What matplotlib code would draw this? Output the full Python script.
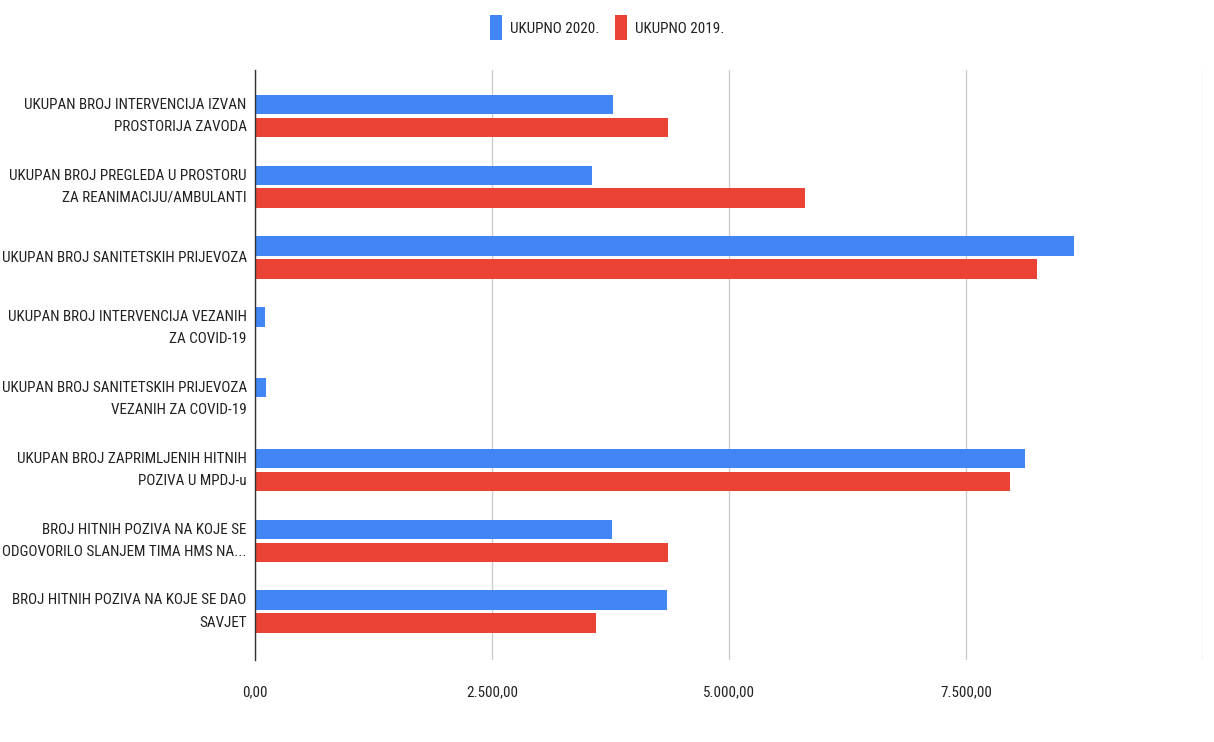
import matplotlib
matplotlib.use("Agg")
import matplotlib.pyplot as plt
import numpy as np
from matplotlib import font_manager

categories = [
    "UKUPAN BROJ INTERVENCIJA IZVAN\nPROSTORIJA ZAVODA",
    "UKUPAN BROJ PREGLEDA U PROSTORU\nZA REANIMACIJU/AMBULANTI",
    "UKUPAN BROJ SANITETSKIH PRIJEVOZA",
    "UKUPAN BROJ INTERVENCIJA VEZANIH\nZA COVID-19",
    "UKUPAN BROJ SANITETSKIH PRIJEVOZA\nVEZANIH ZA COVID-19",
    "UKUPAN BROJ ZAPRIMLJENIH HITNIH\nPOZIVA U MPDJ-u",
    "BROJ HITNIH POZIVA NA KOJE SE\nODGOVORILO SLANJEM TIMA HMS NA...",
    "BROJ HITNIH POZIVA NA KOJE SE DAO\nSAVJET",
]
ukupno_2020 = [3773, 3552, 8643, 105, 113, 8126, 3769, 4343]
ukupno_2019 = [4353, 5802, 8252, 0, 0, 7964, 4353, 3597]
x_ticks = [0, 2500, 5000, 7500, 10000]
x_tick_labels = ["0,00", "2.500,00", "5.000,00", "7.500,00", ""]

# prefer a narrow sans face for the long category names
names = {f.name for f in font_manager.fontManager.ttflist}
narrow = next((n for n in ["Roboto Condensed", "Archivo Narrow", "PT Sans Narrow",
                           "Liberation Sans Narrow", "IBM Plex Sans Condensed"]
               if n in names), "Roboto")
plt.rcParams["font.family"] = [narrow, "DejaVu Sans"]

BLUE = "#4285F4"
RED = "#EA4335"
TEXT = "#222222"
FS = 10.9

fig = plt.figure(figsize=(12.14, 7.42), dpi=100)
ax = fig.add_axes([255 / 1214, 1 - 660 / 742, (1203 - 255) / 1214, (660 - 70) / 742])

y = np.arange(len(categories))
h = 0.275
off = 0.162
ax.barh(y - off, ukupno_2020, height=h, color=BLUE, label="UKUPNO 2020.", zorder=3)
ax.barh(y + off, ukupno_2019, height=h, color=RED, label="UKUPNO 2019.", zorder=3)

ax.set_xlim(0, 10000)
ax.set_ylim(7.684, -0.649)
ax.set_yticks(y)
ax.set_yticklabels(categories, fontsize=FS, color=TEXT, linespacing=1.75, va="center")
ax.set_xticks(x_ticks)
ax.set_xticklabels(x_tick_labels, fontsize=FS, color=TEXT)
ax.tick_params(axis="y", length=0, pad=6)
ax.tick_params(axis="x", length=0, pad=18)
ax.grid(axis="x", color="#cccccc", linewidth=1, zorder=0)
for s in ["top", "right", "bottom"]:
    ax.spines[s].set_visible(False)
ax.spines["left"].set_color("#333333")
ax.spines["left"].set_linewidth(1)
ax.spines["left"].set_zorder(4)

fig.legend(loc="upper center", bbox_to_anchor=(0.5, 0.998), ncol=2, frameon=False,
           fontsize=FS, handlelength=0.8, handleheight=2.2, handletextpad=0.55,
           columnspacing=1.0, labelcolor=TEXT)

fig.savefig("out.png", dpi=100, facecolor="white")
